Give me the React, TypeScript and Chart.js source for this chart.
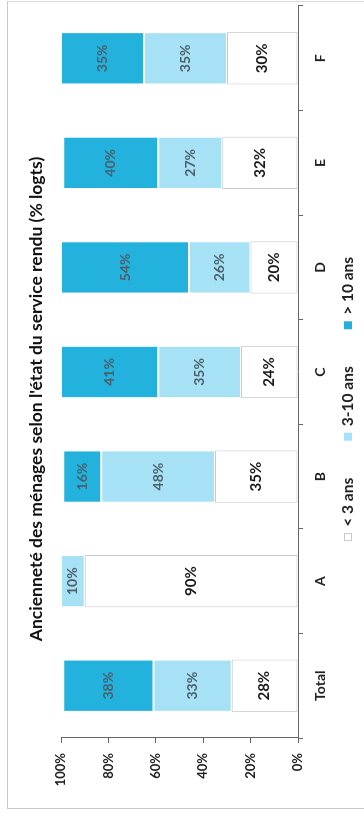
import React, { useEffect, useRef } from "react";
import { Chart, registerables } from "chart.js";

Chart.register(...registerables);

const categories = ["Total", "A", "B", "C", "D", "E", "F"];
const lessThan3 = [28, 90, 35, 24, 20, 32, 30];
const from3to10 = [33, 10, 48, 35, 26, 27, 35];
const moreThan10 = [38, 0, 16, 41, 54, 40, 35];
const seriesLabels = ["< 3 ans", "3-10 ans", "> 10 ans"];
const valueTicks = [0, 20, 40, 60, 80, 100];
const chartTitle = "Ancienneté des ménages selon l'état du service rendu (% logts)";

const FONT = "Lato, 'Open Sans', sans-serif";

const segLabels = {
  id: "segLabels",
  afterDatasetsDraw(chart: any) {
    const ctx = chart.ctx;
    ctx.save();
    ctx.textAlign = "center";
    ctx.textBaseline = "middle";
    chart.data.datasets.forEach((ds: any, di: number) => {
      const meta = chart.getDatasetMeta(di);
      meta.data.forEach((el: any, i: number) => {
        const v = ds.data[i];
        if (!v) return;
        const p = el.getProps(["x", "y", "base"], true);
        ctx.font = di === 0 ? `bold 15px ${FONT}` : `bold 14px ${FONT}`;
        ctx.fillStyle = di === 0 ? "#1a1a1a" : "#4b5f6b";
        ctx.fillText(v + "%", p.x, (p.y + p.base) / 2);
      });
    });
    ctx.restore();
  },
};

// legend drawn below the category axis, centred on the title's centre
const bottomLegend = {
  id: "bottomLegend",
  afterDraw(chart: any) {
    const ctx = chart.ctx;
    const box = 8;
    const gap = 6.5;
    const spacing = 37;
    ctx.save();
    ctx.font = `bold 15.5px ${FONT}`;
    ctx.textBaseline = "middle";
    ctx.textAlign = "left";
    const items = chart.data.datasets.map((ds: any) => ({
      text: ds.label,
      fill: ds.backgroundColor,
      stroke: ds.backgroundColor === "#ffffff" ? ds.borderColor : null,
      w: box + gap + ctx.measureText(ds.label).width,
    }));
    const total =
      items.reduce((a: number, it: any) => a + it.w, 0) + spacing * (items.length - 1);
    const t = chart.titleBlock;
    const cx = t ? (t.left + t.right) / 2 : chart.width / 2;
    const cy = chart.height - 16;
    let x = cx - total / 2;
    items.forEach((it: any) => {
      ctx.fillStyle = it.fill;
      ctx.fillRect(x, cy - box / 2, box, box);
      if (it.stroke) {
        ctx.strokeStyle = it.stroke;
        ctx.lineWidth = 1;
        ctx.strokeRect(x + 0.5, cy - box / 2 + 0.5, box - 1, box - 1);
      }
      ctx.fillStyle = "#222";
      ctx.fillText(it.text, x + box + gap, cy);
      x += it.w + spacing;
    });
    ctx.restore();
  },
};

export default function App() {
  const ref = useRef<HTMLCanvasElement>(null);
  useEffect(() => {
    if (!ref.current) return;
    const chart = new Chart(ref.current, {
      type: "bar",
      data: {
        labels: categories,
        datasets: [
          {
            label: seriesLabels[0],
            data: lessThan3,
            backgroundColor: "#ffffff",
            borderColor: "#c8c8c8",
            borderWidth: 1,
            borderSkipped: false,
          },
          {
            label: seriesLabels[1],
            data: from3to10,
            backgroundColor: "#a6e1f5",
            borderColor: "#ffffff",
            borderWidth: 1,
            borderSkipped: false,
          },
          {
            label: seriesLabels[2],
            data: moreThan10,
            backgroundColor: "#22b2dd",
            borderColor: "#ffffff",
            borderWidth: 1,
            borderSkipped: false,
          },
        ],
      },
      options: {
        responsive: false,
        animation: false,
        layout: { padding: { left: 26, right: 6, top: 0, bottom: 33 } },
        datasets: { bar: { barPercentage: 0.5, categoryPercentage: 1 } },
        plugins: {
          title: {
            display: true,
            text: chartTitle,
            color: "#111",
            font: { family: FONT, size: 17.5, weight: "bold" },
            padding: { top: 25.5, bottom: 14.5 },
          },
          legend: { display: false },
          tooltip: { enabled: false },
        },
        scales: {
          x: {
            stacked: true,
            grid: {
              offset: true,
              drawOnChartArea: false,
              drawTicks: true,
              tickLength: 5,
              color: "#666",
            },
            border: { color: "#666", width: 1 },
            ticks: {
              color: "#222",
              padding: 9,
              font: { family: FONT, size: 14, weight: "bold" },
            },
            afterFit: (s: any) => {
              s.height = 33;
            },
          },
          y: {
            stacked: true,
            min: 0,
            max: 100,
            afterBuildTicks: (s: any) => {
              s.ticks = valueTicks.map((v) => ({ value: v }));
            },
            grid: {
              drawOnChartArea: false,
              drawTicks: true,
              tickLength: 5,
              color: "#666",
            },
            border: { color: "#666", width: 1 },
            ticks: {
              color: "#222",
              padding: 10,
              font: { family: FONT, size: 13, weight: "bold" },
              callback: (v: any) => v + "%",
            },
            afterFit: (s: any) => {
              s.width = 54;
            },
          },
        },
      },
      plugins: [segLabels, bottomLegend],
    } as any);
    return () => chart.destroy();
  }, []);

  return (
    <div
      style={{
        position: "fixed",
        left: 0,
        top: 0,
        width: 364,
        height: 818,
        overflow: "hidden",
        background: "#fff",
      }}
    >
      <div
        style={{
          position: "absolute",
          left: 7,
          top: 1,
          width: 360,
          height: 808,
          borderLeft: "1px solid #c8c8c8",
          borderBottom: "1px solid #c8c8c8",
          borderTop: "1px solid #dcdcdc",
          boxSizing: "border-box",
        }}
      />
      <div
        style={{
          position: "absolute",
          left: 0,
          top: 0,
          width: 818,
          height: 364,
          transformOrigin: "0 0",
          transform: "translate(0px, 818px) rotate(-90deg)",
        }}
      >
        <canvas ref={ref} width={818} height={364} style={{ display: "block" }} />
      </div>
    </div>
  );
}
